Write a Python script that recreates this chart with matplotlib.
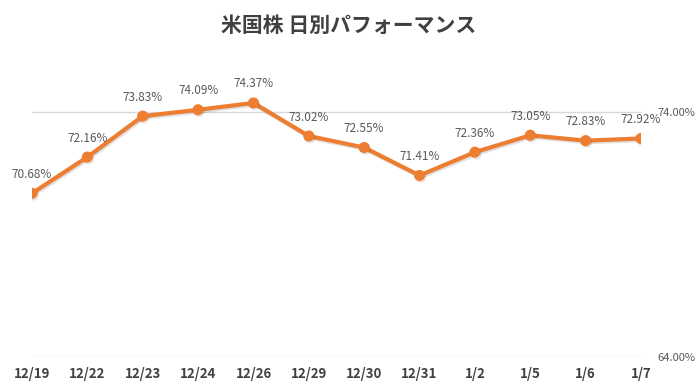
import matplotlib
matplotlib.use("Agg")
import matplotlib.pyplot as plt
import matplotlib.patheffects as pe
from matplotlib.ticker import FixedLocator, FuncFormatter

plt.rcParams['font.family'] = ['Noto Sans CJK JP', 'DejaVu Sans']

# ================= data =================
dates = ['12/19', '12/22', '12/23', '12/24', '12/26', '12/29',
         '12/30', '12/31', '1/2', '1/5', '1/6', '1/7']
perf = [70.68, 72.16, 73.83, 74.09, 74.37, 73.02,
        72.55, 71.41, 72.36, 73.05, 72.83, 72.92]
yticks = [64.0, 74.0]

orange = '#ED7D31'
grey = '#595959'

fig = plt.figure(figsize=(6.98, 3.92), dpi=100)
ax = fig.add_axes([32/698, 1 - 357/392, (641 - 32)/698, (357 - 87.5)/392])

x = list(range(len(dates)))
ax.plot(x, perf, color=orange, linewidth=3, marker='o', markersize=7,
        solid_capstyle='round', solid_joinstyle='round', zorder=3,
        path_effects=[pe.SimpleLineShadow(offset=(0.8, -1.2), alpha=0.12), pe.Normal()])

for xi, v in zip(x, perf):
    ax.annotate('%.2f%%' % v, (xi, v), xytext=(0, 9), textcoords='offset points',
                ha='center', va='bottom', fontsize=8.5, color=grey)

ax.set_xlim(0, len(dates) - 1)
ax.set_ylim(64, 75)
ax.set_xticks(x)
ax.set_xticklabels(dates, fontsize=9.5, fontweight='bold', color='#404040')
ax.yaxis.set_major_locator(FixedLocator(yticks))
ax.yaxis.set_major_formatter(FuncFormatter(lambda v, p: '%.2f%%' % v))
ax.yaxis.tick_right()
ax.tick_params(axis='y', labelsize=8, labelcolor=grey, length=0, pad=12)
ax.tick_params(axis='x', length=0, pad=7)
ax.grid(axis='y', color='#D9D9D9', linewidth=1)
ax.set_axisbelow(True)
for s in ax.spines.values():
    s.set_visible(False)

fig.text(0.5, 1 - 25/392, '米国株 日別パフォーマンス', ha='center', va='center',
         fontsize=15, fontweight='bold', color='#404040')

fig.savefig('out.png', dpi=100)
